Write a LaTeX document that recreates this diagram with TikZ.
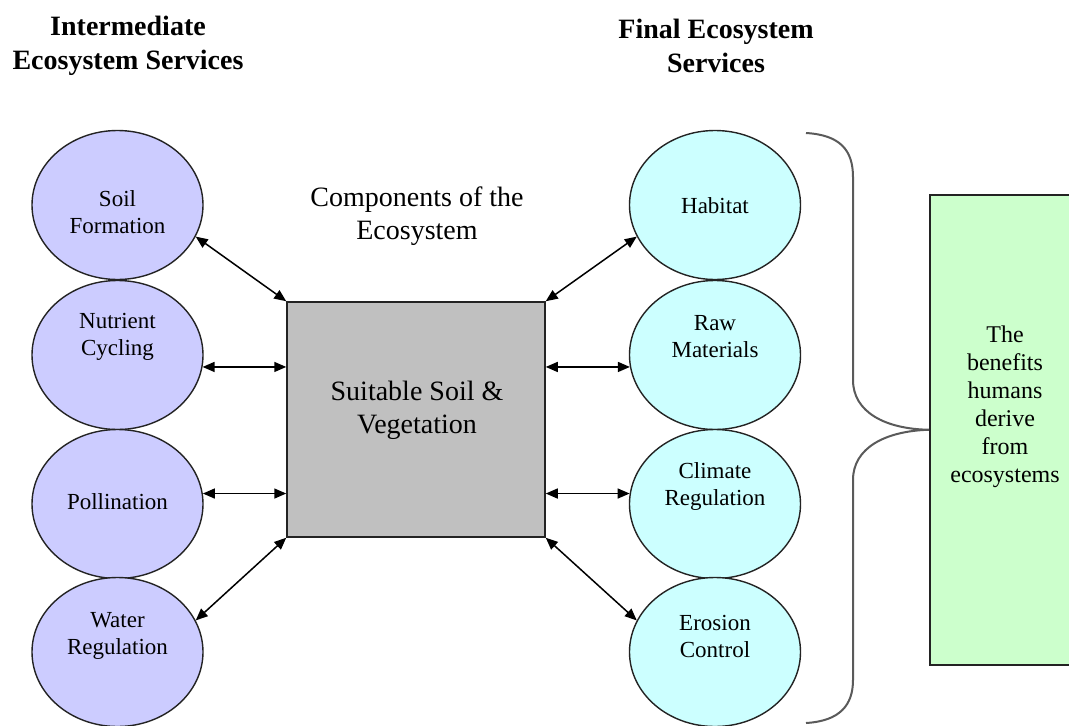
\documentclass[tikz,border=0pt]{standalone}
\usepackage{fontspec}
\setmainfont{Liberation Serif}
\usetikzlibrary{shapes.geometric,arrows.meta}
\definecolor{lav}{RGB}{204,204,255}
\definecolor{cyanlight}{RGB}{204,255,255}
\definecolor{greenlight}{RGB}{204,255,204}
\definecolor{boxgray}{RGB}{192,192,192}
\definecolor{edge}{RGB}{35,35,35}
\definecolor{bracegray}{RGB}{90,90,90}
\tikzset{
  ell/.style={ellipse, draw=edge, line width=1.4pt, minimum width=171pt, minimum height=149pt, inner sep=0pt},
  leftell/.style={ell, fill=lav},
  rightell/.style={ell, fill=cyanlight},
  etext/.style={align=center, font=\fontsize{23}{27}\selectfont, inner sep=0pt},
  ctext/.style={align=center, font=\fontsize{28}{33}\selectfont, inner sep=0pt},
  gtext/.style={align=center, font=\fontsize{24}{28}\selectfont, inner sep=0pt},
  head/.style={align=center, font=\bfseries\fontsize{28}{34}\selectfont, inner sep=0pt},
  conn/.style={<->, >={Triangle[length=12pt,width=10pt]}, line width=1.5pt, black},
  bracestyle/.style={draw=bracegray, line width=2pt}
}
\begin{document}
\begin{tikzpicture}[x=1pt,y=-1pt]
\useasboundingbox (0,0) rectangle (1069,726);
\clip (0,0) rectangle (1069,726);
\fill[white] (0,0) rectangle (1069,726);

% headings
\node[head] (hleft) at (128,46) {Intermediate\\Ecosystem Services};
\node[head] (hright) at (716,46) {Final Ecosystem\\Services};

% left ellipses
\node[leftell] (soil) at (117.5,205) {};
\node[leftell] (nutrient) at (117.5,355) {};
\node[leftell] (poll) at (117.5,504) {};
\node[leftell] (water) at (117.5,652) {};
\node[etext] (soilt) at (117.5,212) {Soil\\Formation};
\node[etext] (nutrientt) at (117.5,337) {Nutrient\\Cycling};
\node[etext] (pollt) at (117.5,502) {Pollination};
\node[etext] (watert) at (117.5,636) {Water\\Regulation};

% right ellipses
\node[rightell] (habitat) at (715,205) {};
\node[rightell] (raw) at (715,355) {};
\node[rightell] (climate) at (715,504) {};
\node[rightell] (erosion) at (715,652) {};
\node[etext] (habitatt) at (715,206) {Habitat};
\node[etext] (rawt) at (715,337) {Raw\\Materials};
\node[etext] (climatet) at (715,486) {Climate\\Regulation};
\node[etext] (erosiont) at (715,636) {Erosion\\Control};

% center
\node[ctext] (comp) at (417,216) {Components of the\\Ecosystem};
\node[draw=edge, line width=1.5pt, fill=boxgray, minimum width=258pt, minimum height=235pt, inner sep=0pt] (box) at (416,419.5) {};
\node[ctext] (boxt) at (417,410) {Suitable Soil \&\\Vegetation};

% green box
\node[draw=edge, line width=1.5pt, fill=greenlight, minimum width=156pt, minimum height=470pt, inner sep=0pt, anchor=north west] (benefits) at (929,194) {};
\node[gtext] (benefitst) at (1005,407) {The\\benefits\\humans\\derive\\from\\ecosystems};

% connectors
\draw[conn] (soil.-22) -- (box.north west);
\draw[conn] (nutrient.-8) -- (nutrient.-8 -| box.west);
\draw[conn] (poll.7) -- (poll.7 -| box.west);
\draw[conn] (water.22) -- (box.south west);
\draw[conn] (habitat.202) -- (box.north east);
\draw[conn] (raw.188) -- (raw.188 -| box.east);
\draw[conn] (climate.173) -- (climate.173 -| box.east);
\draw[conn] (erosion.158) -- (box.south east);

% brace
\coordinate (btop) at (806,133);
\coordinate (bbot) at (806,723);
\draw[bracestyle] (btop) .. controls (840,135) and (853,150) .. (853,177)
  -- (853,380) .. controls (853,412) and (885,429) .. (benefits.west)
  .. controls (885,431) and (853,448) .. (853,480)
  -- (853,680) .. controls (853,705) and (840,721) .. (bbot);
\end{tikzpicture}
\end{document}
